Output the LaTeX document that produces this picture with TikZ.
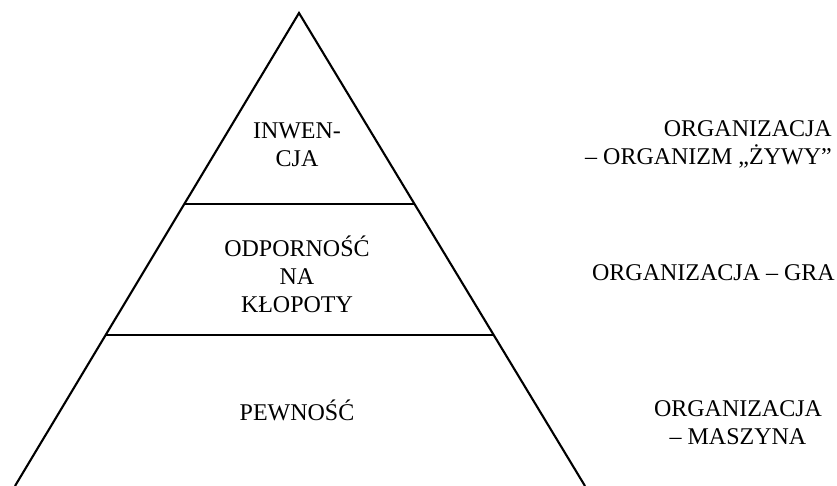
\documentclass[tikz,border=0pt]{standalone}
\usepackage{fontspec}
\setmainfont{Liberation Serif}
\usetikzlibrary{calc}
\begin{document}
\begin{tikzpicture}[x=1pt,y=-1pt,
  edge/.style={line width=2.1pt},
  lbl/.style={font=\fontsize{24}{28}\selectfont, inner sep=0pt, align=center}]
\useasboundingbox (0,0) rectangle (837,486);
\coordinate (apex) at (299,13);
\coordinate (bl) at (15,486);
\coordinate (br) at (585,486);
\draw[edge, line join=miter] (bl) -- (apex) -- (br);
\coordinate (a1) at ($(apex)!0.4038!(bl)$);
\coordinate (b1) at ($(apex)!0.4038!(br)$);
\coordinate (a2) at ($(apex)!0.6808!(bl)$);
\coordinate (b2) at ($(apex)!0.6808!(br)$);
\draw[edge] (a1) -- (b1);
\draw[edge] (a2) -- (b2);
\node[lbl] (t1) at (297,145) {INWEN-\\CJA};
\node[lbl] (t2) at (297,274) {ODPORNOŚĆ\\NA\\KŁOPOTY};
\node[lbl] (t3) at (297,410) {PEWNOŚĆ};
\node[lbl, align=right, anchor=east] (r1) at (832,144) {ORGANIZACJA\\– ORGANIZM „ŻYWY”};
\node[lbl, anchor=east] (r2) at (835,273) {ORGANIZACJA – GRA};
\node[lbl] (r3) at (738,423) {ORGANIZACJA\\– MASZYNA};
\end{tikzpicture}
\end{document}
